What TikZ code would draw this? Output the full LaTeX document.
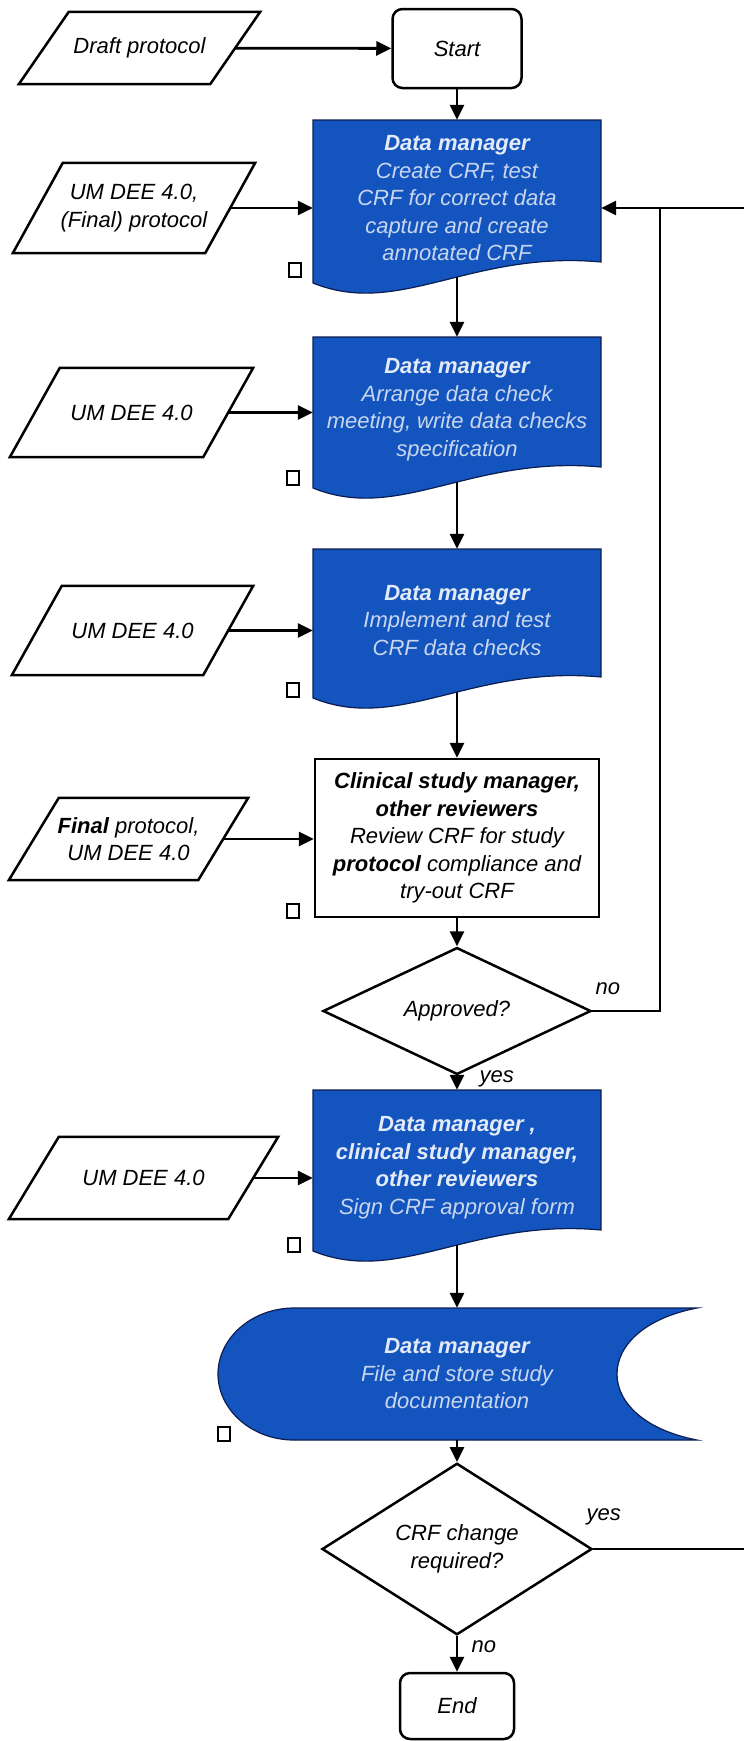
\documentclass[tikz,border=0pt]{standalone}
\usepackage{fontspec}
\setmainfont{Liberation Sans}
\usetikzlibrary{shapes.geometric,arrows.meta}
\definecolor{dmblue}{RGB}{20,84,190}
\definecolor{dmline}{RGB}{10,30,80}
\definecolor{dmtext}{RGB}{200,214,238}
\definecolor{dmhead}{RGB}{228,235,248}

\begin{document}
\begin{tikzpicture}[x=1pt,y=-1pt,
  >={Triangle[length=15pt,width=14pt]},
  every node/.style={font=\itshape\fontsize{22}{27.5}\selectfont},
  flow/.style={line width=2.8pt},
  io/.style={rectangle, align=center, inner sep=0pt,
    append after command={\pgfextra{\draw[line width=2.5pt]
      ([xshift=-25pt]\tikzlastnode.south west) -- ([xshift=-25pt]\tikzlastnode.south east)
      -- ([xshift=25pt]\tikzlastnode.north east) -- ([xshift=25pt]\tikzlastnode.north west) -- cycle;}}},
  terminal/.style={rectangle, rounded corners=10pt, draw, line width=2.5pt},
  dmbox/.style={rectangle, minimum width=288, inner sep=0pt, align=center, text=dmtext},
  dmshape/.style={fill=dmblue, draw=dmline, line width=1.2pt},
  decision/.style={diamond, draw, line width=2.5pt, inner sep=0pt, align=center},
  marker/.style={rectangle, draw, line width=2pt, minimum width=12, minimum height=14, inner sep=0pt}]
\useasboundingbox (0,0) rectangle (744,1741);

% blue shapes first
\path[dmshape] (313,120) -- (601,120) -- (601,262) .. controls (471,250) and (399,318) .. (313,283) -- cycle;
\path[dmshape] (313,337) -- (601,337) -- (601,467) .. controls (471,455) and (399,523) .. (313,488) -- cycle;
\path[dmshape] (313,549) -- (601,549) -- (601,677) .. controls (471,665) and (399,733) .. (313,698) -- cycle;
\path[dmshape] (313,1090) -- (601,1090) -- (601,1230) .. controls (471,1218) and (399,1286) .. (313,1251) -- cycle;
\path[dmshape] (294,1308) -- (697,1308) .. controls (645,1318) and (617,1345) .. (617,1374)
  .. controls (617,1403) and (645,1430) .. (697,1440) -- (294,1440)
  .. controls (252,1440) and (218,1410) .. (218,1374) .. controls (218,1338) and (252,1308) .. (294,1308) -- cycle;

\node (draft) at (139.5,48) [io, minimum width=191, minimum height=72] {Draft protocol};
\node (start) at (457,48.5) [terminal, minimum width=129, minimum height=79] {Start} edge[<-, flow] (draft);

\node (dm1) at (457,198.5) [dmbox, minimum height=157] {\textbf{\color{dmhead}Data manager}\\Create CRF, test\\CRF for correct data\\capture and create\\annotated CRF} edge[<-, flow] (start);
\node (um1) at (134,208) [io, minimum width=192, minimum height=90] {UM DEE 4.0,\\(Final) protocol};
\node (sq1) at (295,270) [marker] {};

\node (dm2) at (457,409.5) [dmbox, minimum height=145] {\textbf{\color{dmhead}Data manager}\\Arrange data check\\meeting, write data checks\\specification} edge[<-, flow] (dm1);
\node (um2) at (131.5,412.5) [io, minimum width=193, minimum height=89] {UM DEE 4.0};
\node (sq2) at (292.5,477.5) [marker] {};

\node (dm3) at (457,620.5) [dmbox, minimum height=143] {\textbf{\color{dmhead}Data manager}\\Implement and test\\CRF data checks} edge[<-, flow] (dm2);
\node (um3) at (132.5,630.5) [io, minimum width=191, minimum height=89] {UM DEE 4.0};
\node (sq3) at (292.5,689.5) [marker] {};

\node (review) at (457,838) [rectangle, draw, line width=2.5pt, minimum width=284, minimum height=158, align=center]
  {\textbf{Clinical study manager,}\\\textbf{other reviewers}\\Review CRF for study\\\textbf{protocol} compliance and\\try-out CRF} edge[<-, flow] (dm3);
\node (final) at (128.5,839) [io, minimum width=189, minimum height=82] {\textbf{Final} protocol,\\UM DEE 4.0};
\node (sq4) at (293,911) [marker] {};

\node (approved) at (457,1011) [decision, minimum width=268, minimum height=85] {Approved?} edge[<-, flow] (review);

\node (dm4) at (457,1167.5) [dmbox, minimum height=155] {\textbf{\color{dmhead}Data manager ,}\\\textbf{\color{dmhead}clinical study manager,}\\\textbf{\color{dmhead}other reviewers}\\Sign CRF approval form}
  edge[<-, flow] node[right=18pt, yshift=4pt] {yes} (approved);
\node (um4) at (143.5,1178) [io, minimum width=219, minimum height=82] {UM DEE 4.0};
\node (sq5) at (294,1244.5) [marker] {};

\node (store) at (457,1374) [dmbox, minimum width=479, minimum height=132] {\textbf{\color{dmhead}Data manager}\\File and store study\\documentation} edge[<-, flow] (dm4);
\node (sq6) at (223.5,1434) [marker] {};

\node (crf) at (457,1549) [decision, minimum width=270, minimum height=129] {CRF change\\required?} edge[<-, flow] (store);
\node (end) at (457,1706) [terminal, minimum width=114, minimum height=66] {End}
  edge[<-, flow] node[right=10pt, yshift=7pt] {no} (crf);

% inputs
\draw[->, flow] (um1.east) -- (um1.east -| dm1.west);
\draw[->, flow] (um2.east) -- (um2.east -| dm2.west);
\draw[->, flow] (um3.east) -- (um3.east -| dm3.west);
\draw[->, flow] (final.east) -- (final.east -| review.west);
\draw[->, flow] (um4.east) -- (um4.east -| dm4.west);

% loop back
\coordinate (loop) at (660,208);
\coordinate (rtop) at (744,208);
\coordinate (rbot) at (744,1549);
\draw[flow] (approved.east) -| node[pos=0.115, above=12pt] {no} (loop);
\draw[->, flow] (rtop) -- (rtop -| dm1.east);
\draw[flow] (crf.east) -- node[pos=0.07, above=19pt] {yes} (rbot);
\end{tikzpicture}
\end{document}
